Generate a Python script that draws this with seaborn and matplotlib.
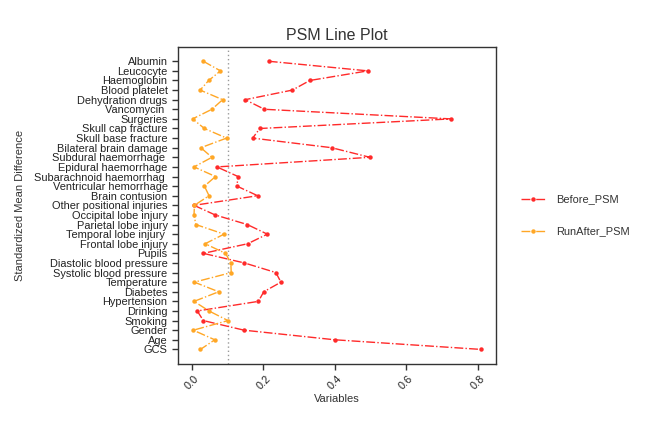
import matplotlib
matplotlib.use("Agg")
import matplotlib.pyplot as plt
import seaborn as sns
import pandas as pd

variables = ["Albumin", "Leucocyte", "Haemoglobin", "Blood platelet", "Dehydration drugs",
             "Vancomycin ", "Surgeries", "Skull cap fracture", "Skull base fracture",
             "Bilateral brain damage", "Subdural haemorrhage ", "Epidural haemorrhage",
             "Subarachnoid haemorrhag ", "Ventricular hemorrhage", "Brain contusion",
             "Other positional injuries", "Occipital lobe injury", "Parietal lobe injury",
             "Temporal lobe injury ", "Frontal lobe injury", "Pupils",
             "Diastolic blood pressure", "Systolic blood pressure", "Temperature",
             "Diabetes", "Hypertension", "Drinking", "Smoking", "Gender", "Age", "GCS"]

before_psm = [0.215, 0.492, 0.330, 0.281, 0.149, 0.203, 0.725, 0.190, 0.170, 0.391,
              0.498, 0.070, 0.129, 0.126, 0.184, 0.006, 0.065, 0.155, 0.211, 0.156,
              0.032, 0.147, 0.235, 0.249, 0.201, 0.186, 0.015, 0.032, 0.146, 0.400, 0.808]

after_psm = [0.032, 0.080, 0.047, 0.023, 0.086, 0.056, 0.002, 0.035, 0.097, 0.025,
             0.056, 0.006, 0.066, 0.035, 0.048, 0.007, 0.006, 0.011, 0.090, 0.037,
             0.094, 0.109, 0.110, 0.007, 0.075, 0.006, 0.048, 0.101, 0.004, 0.064, 0.024]

xticks = [0.0, 0.2, 0.4, 0.6, 0.8]
threshold = 0.1

n = len(variables)
pos = [n - 1 - i for i in range(n)]
df_before = pd.DataFrame({"smd": before_psm, "pos": pos})
df_after = pd.DataFrame({"smd": after_psm, "pos": pos})

sns.set_theme(style="white")
plt.rcParams["font.family"] = ["Liberation Sans", "DejaVu Sans"]
ink = "#333333"

fig = plt.figure(figsize=(6.69, 4.26), dpi=100)
ax = fig.add_axes([0.266, 0.146, 0.475, 0.744])

sns.lineplot(data=df_before, x="smd", y="pos", sort=False, orient="y", estimator=None,
             color="#FF2A2A", linestyle="-.", linewidth=1.0, marker="o", markersize=3.2,
             markeredgewidth=0, label="Before_PSM", ax=ax)
sns.lineplot(data=df_after, x="smd", y="pos", sort=False, orient="y", estimator=None,
             color="#FFA726", linestyle="-.", linewidth=1.0, marker="o", markersize=3.2,
             markeredgewidth=0, label="RunAfter_PSM", ax=ax)

ax.axvline(threshold, color="#999999", linestyle=(0, (1, 2)), linewidth=1.0, zorder=0)

ax.set_ylim(-1.5, n - 1 + 1.5)
ax.set_xlim(-0.039, 0.85)
ax.set_yticks(pos)
ax.set_yticklabels(variables, fontsize=7.9, color="#222222")
ax.set_xticks(xticks)
ax.set_xticklabels([f"{t:.1f}" for t in xticks], rotation=45, fontsize=7.9, color="#222222")
ax.tick_params(axis="both", which="major", direction="out", length=4, width=1,
               color=ink, left=True, bottom=True)
ax.tick_params(axis="y", pad=3.5)
ax.tick_params(axis="x", pad=3)
for s in ax.spines.values():
    s.set_visible(True)
    s.set_color(ink)
    s.set_linewidth(1.0)

ax.set_title("PSM Line Plot", fontsize=11.5, color=ink, pad=5)
ax.set_xlabel("Variables", fontsize=8, color=ink, labelpad=2)
ax.set_ylabel("Standardized Mean Difference", fontsize=8, color=ink)
ax.yaxis.set_label_coords(-0.48, 0.5)

leg = ax.legend(loc="center left", bbox_to_anchor=(0.7635, 0.494), bbox_transform=fig.transFigure,
                frameon=False, fontsize=7.9, labelspacing=2.0, handlelength=2.3,
                handletextpad=0.9)
for t in leg.get_texts():
    t.set_color(ink)

fig.savefig("out.png", dpi=100)
